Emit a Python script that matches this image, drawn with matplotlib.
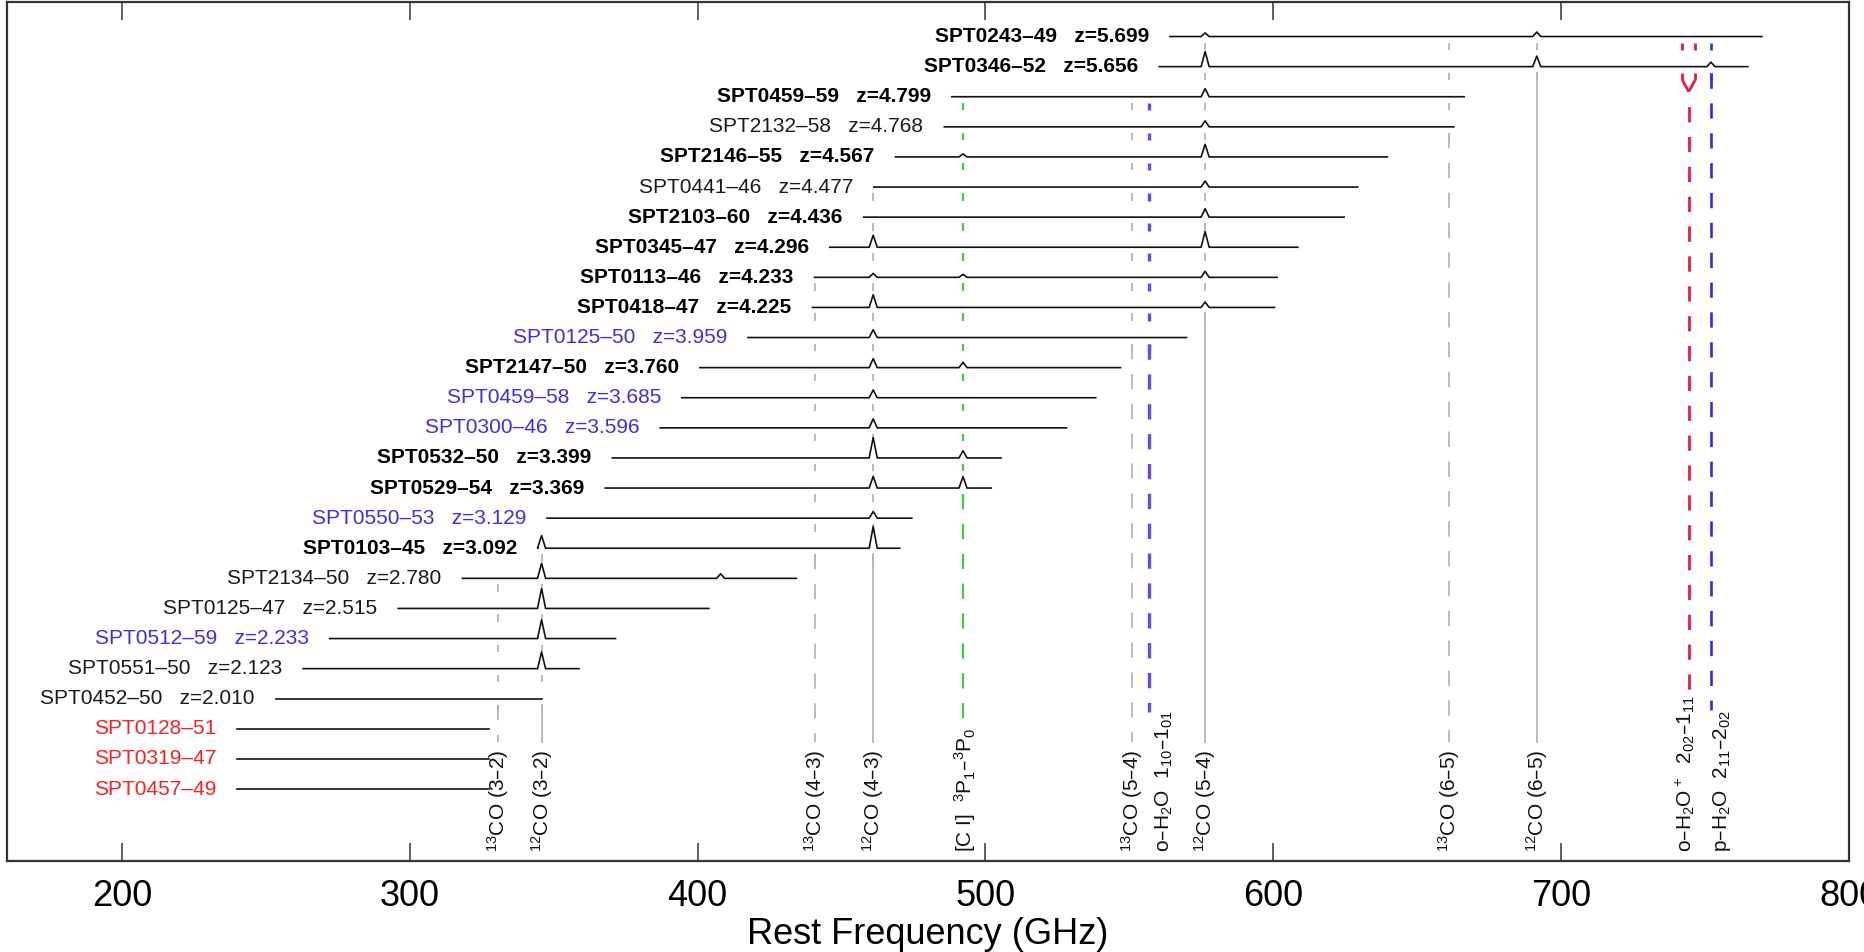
import matplotlib
matplotlib.use("Agg")
import matplotlib.pyplot as plt
from matplotlib.transforms import blended_transform_factory

plt.rcParams['font.family'] = ['Liberation Sans', 'DejaVu Sans']
plt.rcParams['lines.scale_dashes'] = False

# ---------------- data ----------------
names = ["SPT0243–49", "SPT0346–52", "SPT0459–59", "SPT2132–58", "SPT2146–55",
         "SPT0441–46", "SPT2103–60", "SPT0345–47", "SPT0113–46", "SPT0418–47",
         "SPT0125–50", "SPT2147–50", "SPT0459–58", "SPT0300–46", "SPT0532–50",
         "SPT0529–54", "SPT0550–53", "SPT0103–45", "SPT2134–50", "SPT0125–47",
         "SPT0512–59", "SPT0551–50", "SPT0452–50", "SPT0128–51", "SPT0319–47",
         "SPT0457–49"]
z_text = ["5.699", "5.656", "4.799", "4.768", "4.567", "4.477", "4.436", "4.296",
          "4.233", "4.225", "3.959", "3.760", "3.685", "3.596", "3.399", "3.369",
          "3.129", "3.092", "2.780", "2.515", "2.233", "2.123", "2.010", "", "", ""]
category = ["bold", "bold", "bold", "plain", "bold", "plain", "bold", "bold",
            "bold", "bold", "blue", "bold", "blue", "blue", "bold", "bold",
            "blue", "bold", "plain", "plain", "blue", "plain", "plain",
            "red", "red", "red"]
f_start = [564.1, 560.4, 488.3, 485.7, 468.7, 461.2, 457.7, 445.9, 440.6, 439.9,
           417.5, 400.8, 394.5, 387.0, 370.4, 367.9, 347.7, 344.5, 318.3, 296.0,
           272.2, 263.0, 253.4, 240.0, 240.0, 240.0]
f_end = [769.7, 764.8, 666.3, 662.7, 639.6, 629.3, 624.6, 608.5, 601.3, 600.4,
         569.8, 546.9, 538.3, 528.1, 505.4, 502.0, 474.4, 470.2, 434.3, 403.9,
         371.5, 358.8, 345.9, 327.5, 327.5, 327.5]
peak_freq = [[576.3, 691.5], [576.3, 691.5, 752.0], [576.3], [576.3],
             [492.2, 576.3], [576.3], [576.3], [461.0, 576.3],
             [461.0, 492.2, 576.3], [461.0, 576.3], [461.0], [461.0, 492.2],
             [461.0], [461.0], [461.0, 492.2], [461.0, 492.2], [461.0],
             [345.8, 461.0], [345.8, 408.0], [345.8], [345.8], [345.8],
             [], [], [], []]
peak_amp = [[0.12, 0.15], [0.5, 0.35, 0.15], [0.27], [0.2],
            [0.1, 0.42], [0.2], [0.28], [0.4, 0.52],
            [0.13, 0.1, 0.2], [0.42, 0.18], [0.26], [0.3, 0.18],
            [0.26], [0.3], [0.68, 0.24], [0.39, 0.38], [0.22],
            [0.42, 0.72], [0.5, 0.15], [0.66], [0.62], [0.55],
            [], [], [], []]

line_labels = [r"$\mathregular{^{13}}$CO (3–2)", r"$\mathregular{^{12}}$CO (3–2)",
               r"$\mathregular{^{13}}$CO (4–3)", r"$\mathregular{^{12}}$CO (4–3)",
               r"[C I]  $\mathregular{^3}$P$\mathregular{_1}$–$\mathregular{^3}$P$\mathregular{_0}$",
               r"$\mathregular{^{13}}$CO (5–4)",
               r"o–H$\mathregular{_2}$O  1$\mathregular{_{10}}$–1$\mathregular{_{01}}$",
               r"$\mathregular{^{12}}$CO (5–4)",
               r"$\mathregular{^{13}}$CO (6–5)", r"$\mathregular{^{12}}$CO (6–5)",
               r"o–H$\mathregular{_2}$O$\mathregular{^+}$  2$\mathregular{_{02}}$–1$\mathregular{_{11}}$",
               r"p–H$\mathregular{_2}$O  2$\mathregular{_{11}}$–2$\mathregular{_{02}}$"]
line_freqs = [[330.6], [345.8], [440.8], [461.0], [492.2], [550.9], [556.9],
              [576.3], [661.1], [691.5], [742.1, 746.5], [752.0]]
line_kind = ["13CO", "12CO", "13CO", "12CO", "CI", "13CO", "oH2O", "12CO",
             "13CO", "12CO", "oH2Op", "pH2O"]

xticks = [200, 300, 400, 500, 600, 700, 800]

# ---------------- styles ----------------
label_style = {
    "bold": dict(color="black", weight="bold"),
    "plain": dict(color="#1a1a1a", weight="normal"),
    "blue": dict(color="#3a2ef0", weight="normal"),
    "red": dict(color="#ff1f1f", weight="normal"),
}
dash = (0, (11, 10.5))
line_style = {
    "13CO": dict(color="#b5b5b5", lw=1.3, dashed=True, end=-23.44, shift=0.0),
    "12CO": dict(color="#b5b5b5", lw=1.3, dashed=False, end=-23.44, shift=0.0),
    "CI": dict(color="#3fcf3f", lw=1.6, dashed=True, end=-22.77, shift=0.8),
    "oH2O": dict(color="#6a46f2", lw=2.4, dashed=True, end=-22.44, shift=5.3),
    "oH2Op": dict(color="#f2153d", lw=2.0, dashed=True, end=-21.71, shift=-1.3),
    "pH2O": dict(color="#2b2bf5", lw=1.9, dashed=True, end=-22.38, shift=4.0),
}
W = 1.4  # half width of drawn peaks (GHz)

fig = plt.figure(figsize=(18.64, 9.52), dpi=100)
ax = fig.add_axes([0.0036, 0.0956, 0.9884, 0.9028])
ax.set_xlim(160, 800)
ax.set_ylim(-27.39, 1.163)

# ---------------- line markers ----------------
for lab, freqs, kind in zip(line_labels, line_freqs, line_kind):
    st = line_style[kind]
    fmid = sum(freqs) / len(freqs)
    covering = [i for i in range(len(names))
                if any(f_start[i] - 1.0 <= f <= f_end[i] + 1.0 for f in freqs)]
    for i in covering:
        for f in freqs:
            ax.plot([f, f], [-i - 0.2, -i - 0.45], color=st["color"], lw=st["lw"],
                    solid_capstyle="butt", zorder=1)
    last = max(covering)
    ls = dash if st["dashed"] else "-"
    if len(freqs) > 1:
        for f in freqs:
            ax.plot([f, fmid], [-last - 0.45, -last - 0.83], color=st["color"],
                    lw=st["lw"], solid_capstyle="butt", zorder=1)
        ax.plot([fmid, fmid], [-last - 0.83, st["end"]], color=st["color"],
                lw=st["lw"], linestyle=(11, (11, 10.5)), zorder=1)
    else:
        ax.plot([fmid, fmid], [-last - 0.2, st["end"]], color=st["color"],
                lw=st["lw"], linestyle=ls, dash_capstyle="butt", zorder=1)
    trans = blended_transform_factory(ax.transData, ax.transAxes)
    ax.text(fmid + st["shift"], 0.0105, lab, transform=trans, rotation=90,
            ha="center", va="bottom", fontsize=15, color="#111111")

# ---------------- spectra ----------------
for i, name in enumerate(names):
    xs = [f_start[i]]
    ys = [0.0]
    for f, a in sorted(zip(peak_freq[i], peak_amp[i])):
        xs += [f - W, f, f + W]
        ys += [0.0, a, 0.0]
    xs.append(f_end[i])
    ys.append(0.0)
    ax.plot(xs, [y - i for y in ys], color="#111111", lw=1.2, zorder=3)
    txt = name + ("   z=" + z_text[i] if z_text[i] else "")
    st = label_style[category[i]]
    ax.annotate(txt, xy=(f_start[i], -i), xytext=(-15, 0),
                textcoords="offset points", ha="right", va="center",
                fontsize=15, color=st["color"], fontweight=st["weight"])

# ---------------- axes ----------------
ax.set_xticks(xticks)
ax.set_yticks([])
ax.tick_params(axis="x", direction="in", length=13, width=1.1, top=True,
               bottom=True, labelsize=26, pad=13, color="#333333")
for sp in ax.spines.values():
    sp.set_linewidth(1.6)
    sp.set_color("#333333")
ax.set_xlabel("Rest Frequency (GHz)", fontsize=26, labelpad=2)

fig.savefig("out.png", dpi=100)
